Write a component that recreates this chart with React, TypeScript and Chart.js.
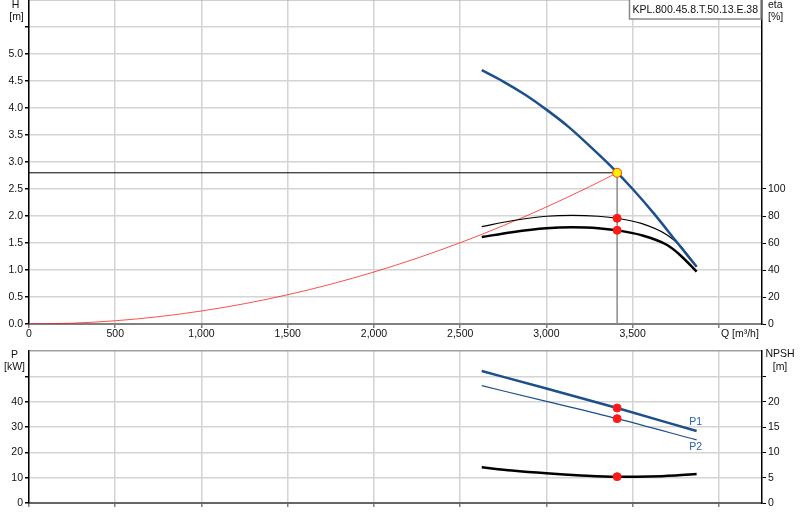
import React, { useEffect, useRef } from 'react';
import { Chart, registerables } from 'chart.js';

Chart.register(...registerables);

const FONT = '"Liberation Sans", Arial, sans-serif';
const FONT_SIZE = 10.5;
const TEXT_COLOR = '#111111';
const GRID_COLOR = '#d4d4d4';
const EDGE_COLOR = '#a0a0a0';
const BLUE = '#1d4f8c';
const LABEL_BLUE = '#2a63a8';

const MODEL = 'KPL.800.45.8.T.50.13.E.38';

// axes
const Q_MAX = 4250;
const Q_TICKS = [0, 500, 1000, 1500, 2000, 2500, 3000, 3500, 4000];
const Q_AXIS_LABEL_AT = 4000;
const H_MAX = 6;
const H_TICKS = [0, 0.5, 1, 1.5, 2, 2.5, 3, 3.5, 4, 4.5, 5, 5.5, 6];
const H_LABEL_MAX = 5;
const ETA_MAX = 240;
const ETA_TICKS = [0, 20, 40, 60, 80, 100];
const P_MAX = 60;
const P_TICKS = [0, 10, 20, 30, 40, 50, 60];
const P_LABEL_MAX = 40;
const NPSH_MAX = 30;
const NPSH_TICKS = [0, 5, 10, 15, 20, 25, 30];
const NPSH_LABEL_MAX = 20;

// pump head curve
const PUMP_Q = [2625, 2750, 2875, 3000, 3125, 3250, 3375, 3500, 3625, 3750, 3871];
const PUMP_H = [4.7, 4.49, 4.25, 3.97, 3.66, 3.3, 2.92, 2.5, 2.04, 1.54, 1.06];

// efficiency curves
const ETA_Q = [2625, 2800, 3000, 3150, 3300, 3410, 3550, 3700, 3775, 3871];
const ETA_HYD = [72.1, 76.5, 79.8, 80.5, 79.8, 78.3, 74.5, 66.0, 58.0, 42.5];
const ETA_TOT = [64.4, 68.0, 70.9, 71.6, 71.0, 69.4, 65.8, 58.5, 51.1, 38.8];

// system curve
const SYS_Q = [0, 250, 500, 750, 1000, 1250, 1500, 1750, 2000, 2250, 2500, 2750, 3000, 3250, 3410];
const SYS_H = [0, 0.015, 0.06, 0.135, 0.241, 0.376, 0.542, 0.737, 0.963, 1.219, 1.505, 1.821, 2.167, 2.543, 2.8];

// power & NPSH
const P_Q = [2625, 3000, 3410, 3871];
const P1 = [52.1, 45.2, 37.5, 28.4];
const P2 = [46.3, 40.1, 33.3, 24.9];
const NPSH_Q = [2625, 2800, 3000, 3200, 3410, 3600, 3750, 3871];
const NPSH = [7.05, 6.4, 5.85, 5.45, 5.2, 5.25, 5.45, 5.7];

// duty point
const DUTY_Q = 3410;
const DUTY_H = 2.8;
const DUTY_ETA_HYD = 78.3;
const DUTY_ETA_TOT = 69.4;
const DUTY_P1 = 37.5;
const DUTY_P2 = 33.3;
const DUTY_NPSH = 5.2;

const pts = (xs: number[], ys: number[]) => xs.map((x, i) => ({ x, y: ys[i] }));
const fmtQ = (v: number) => v.toLocaleString('en-US');
const font = { family: FONT, size: FONT_SIZE };

const setTicks = (list: number[]) => (s: any) => {
  s.ticks = list.map((value) => ({ value }));
};

const line = (data: any[], color: string, width: number, axis = 'y', order = 1, extra: any = {}) => ({
  data,
  borderColor: color,
  backgroundColor: color,
  borderWidth: width,
  pointRadius: 0,
  showLine: true,
  fill: false,
  yAxisID: axis,
  order,
  cubicInterpolationMode: 'monotone',
  ...extra,
});

const dot = (x: number, y: number, axis = 'y', fill = '#ff1a1a', border = '#ff1a1a', r = 4) => ({
  data: [{ x, y }],
  showLine: false,
  pointRadius: r,
  pointBackgroundColor: fill,
  pointBorderColor: border,
  pointBorderWidth: 1,
  yAxisID: axis,
  order: 0,
});

const xScale = (height: number, showLabels: boolean, borderColor: string) => ({
  type: 'linear',
  min: 0,
  max: Q_MAX,
  afterBuildTicks: setTicks(Q_TICKS),
  afterFit: (s: any) => {
    s.height = height;
    s.paddingLeft = 0;
    s.paddingRight = 0;
  },
  grid: { color: GRID_COLOR, lineWidth: 1.5, tickLength: 4, tickColor: '#808080' },
  border: { color: borderColor, width: 2 },
  ticks: {
    font,
    color: TEXT_COLOR,
    padding: 0,
    maxRotation: 0,
    autoSkip: false,
    callback: (v: number) => (!showLabels || v === Q_AXIS_LABEL_AT ? '' : fmtQ(v)),
  },
});

const yLeft = (max: number, ticks: number[], labelMax: number, digits: number) => ({
  type: 'linear',
  position: 'left',
  min: 0,
  max,
  afterBuildTicks: setTicks(ticks),
  afterFit: (s: any) => {
    s.width = 29;
    s.paddingTop = 0;
    s.paddingBottom = 0;
  },
  grid: {
    color: (c: any) => (c.tick && c.tick.value === max ? EDGE_COLOR : GRID_COLOR),
    lineWidth: 1.5,
    tickLength: 4,
    tickColor: (c: any) => (c.tick && c.tick.value === max ? 'rgba(0,0,0,0)' : '#000'),
  },
  border: { color: '#000', width: 1.5 },
  ticks: {
    font,
    color: TEXT_COLOR,
    padding: 2,
    autoSkip: false,
    callback: (v: number) => (v <= labelMax ? v.toFixed(digits) : ''),
  },
});

const yRight = (max: number, ticks: number[], labelMax: number) => ({
  type: 'linear',
  position: 'right',
  min: 0,
  max,
  afterBuildTicks: setTicks(ticks),
  afterFit: (s: any) => {
    s.width = 38;
    s.paddingTop = 0;
    s.paddingBottom = 0;
  },
  grid: {
    drawOnChartArea: false,
    tickLength: 4,
    tickColor: (c: any) => (c.tick && c.tick.value === max ? 'rgba(0,0,0,0)' : '#000'),
  },
  border: { color: '#000', width: 1.5 },
  ticks: {
    font,
    color: TEXT_COLOR,
    padding: 2,
    autoSkip: false,
    callback: (v: number) => (v <= labelMax ? String(v) : ''),
  },
});

const topTexts = {
  id: 'topTexts',
  afterDraw(chart: any) {
    const { ctx, chartArea: a, scales } = chart;
    ctx.save();
    ctx.font = `${FONT_SIZE}px ${FONT}`;
    ctx.fillStyle = TEXT_COLOR;
    ctx.textBaseline = 'middle';
    ctx.textAlign = 'center';
    ctx.fillText('H', a.left / 2 + 1, a.top + 5);
    ctx.fillText('[m]', a.left / 2 + 2, a.top + 17);
    ctx.textAlign = 'left';
    ctx.fillText('eta', a.right + 6, a.top + 5);
    ctx.fillText('[%]', a.right + 6, a.top + 17);
    ctx.fillText('Q [m³/h]', scales.x.getPixelForValue(Q_AXIS_LABEL_AT) + 2, a.bottom + 10);
    // model box
    const w = ctx.measureText(MODEL).width + 6;
    const bx = a.right - w - 1;
    ctx.fillStyle = '#ffffff';
    ctx.fillRect(bx, a.top, w, 19);
    ctx.strokeStyle = '#8a8a8a';
    ctx.lineWidth = 1.5;
    ctx.strokeRect(bx, a.top - 2, w, 21);
    ctx.fillStyle = TEXT_COLOR;
    ctx.textAlign = 'center';
    ctx.fillText(MODEL, bx + w / 2, a.top + 10);
    ctx.restore();
  },
};

const bottomTexts = {
  id: 'bottomTexts',
  afterDraw(chart: any) {
    const { ctx, chartArea: a, scales } = chart;
    ctx.save();
    ctx.font = `${FONT_SIZE}px ${FONT}`;
    ctx.fillStyle = TEXT_COLOR;
    ctx.textBaseline = 'middle';
    ctx.textAlign = 'center';
    ctx.fillText('P', a.left / 2, a.top + 4);
    ctx.fillText('[kW]', a.left / 2, a.top + 16);
    ctx.fillText('NPSH', a.right + 18, a.top + 3);
    ctx.fillText('[m]', a.right + 18, a.top + 16);
    const last = P_Q.length - 1;
    const ex = scales.x.getPixelForValue(P_Q[last]);
    ctx.fillStyle = LABEL_BLUE;
    ctx.fillText('P1', ex - 1, scales.y.getPixelForValue(P1[last]) - 9);
    ctx.fillText('P2', ex - 1, scales.y.getPixelForValue(P2[last]) + 7);
    ctx.restore();
  },
};

function TopChart() {
  const ref = useRef<HTMLCanvasElement>(null);
  useEffect(() => {
    const chart = new Chart(ref.current as HTMLCanvasElement, {
      type: 'scatter',
      data: {
        datasets: [
          dot(DUTY_Q, DUTY_H, 'y', '#ffee00', '#ff4000', 4.5),
          dot(DUTY_Q, DUTY_ETA_HYD, 'y2'),
          dot(DUTY_Q, DUTY_ETA_TOT, 'y2'),
          line(pts(PUMP_Q, PUMP_H), BLUE, 2.5, 'y', 1),
          line(pts(ETA_Q, ETA_HYD), '#000', 1.2, 'y2', 1),
          line(pts(ETA_Q, ETA_TOT), '#000', 2.5, 'y2', 1),
          line(pts(SYS_Q, SYS_H), 'rgba(255,20,20,0.75)', 1, 'y', 2),
          line([{ x: 0, y: DUTY_H }, { x: DUTY_Q, y: DUTY_H }], '#000', 1, 'y', 2, { cubicInterpolationMode: 'default', tension: 0 }),
          line([{ x: DUTY_Q, y: 0 }, { x: DUTY_Q, y: DUTY_H }], '#8c8c8c', 1.5, 'y', 3, { cubicInterpolationMode: 'default', tension: 0 }),
        ] as any,
      },
      options: {
        responsive: false,
        animation: false,
        events: [],
        layout: { padding: 0, autoPadding: false },
        plugins: { legend: { display: false }, tooltip: { enabled: false } },
        scales: {
          x: xScale(16, true, '#808080'),
          y: yLeft(H_MAX, H_TICKS, H_LABEL_MAX, 1),
          y2: yRight(ETA_MAX, ETA_TICKS, 100),
        } as any,
      },
      plugins: [topTexts],
    });
    return () => chart.destroy();
  }, []);
  return <canvas ref={ref} width={800} height={340} style={{ display: 'block' }} />;
}

function BottomChart() {
  const ref = useRef<HTMLCanvasElement>(null);
  useEffect(() => {
    const chart = new Chart(ref.current as HTMLCanvasElement, {
      type: 'scatter',
      data: {
        datasets: [
          dot(DUTY_Q, DUTY_P1, 'y'),
          dot(DUTY_Q, DUTY_P2, 'y'),
          dot(DUTY_Q, DUTY_NPSH, 'y2'),
          line(pts(P_Q, P1), BLUE, 2.5, 'y', 1),
          line(pts(P_Q, P2), BLUE, 1.2, 'y', 1),
          line(pts(NPSH_Q, NPSH), '#000', 2.5, 'y2', 1),
        ] as any,
      },
      options: {
        responsive: false,
        animation: false,
        events: [],
        layout: { padding: { top: 11 }, autoPadding: false },
        plugins: { legend: { display: false }, tooltip: { enabled: false } },
        scales: {
          x: xScale(17, false, '#666666'),
          y: yLeft(P_MAX, P_TICKS, P_LABEL_MAX, 0),
          y2: yRight(NPSH_MAX, NPSH_TICKS, NPSH_LABEL_MAX),
        } as any,
      },
      plugins: [bottomTexts],
    });
    return () => chart.destroy();
  }, []);
  return <canvas ref={ref} width={800} height={180} style={{ display: 'block' }} />;
}

export default function App() {
  return (
    <div style={{ position: 'absolute', left: 0, top: 0, width: 800, height: 520, background: '#fff' }}>
      <TopChart />
      <BottomChart />
    </div>
  );
}
